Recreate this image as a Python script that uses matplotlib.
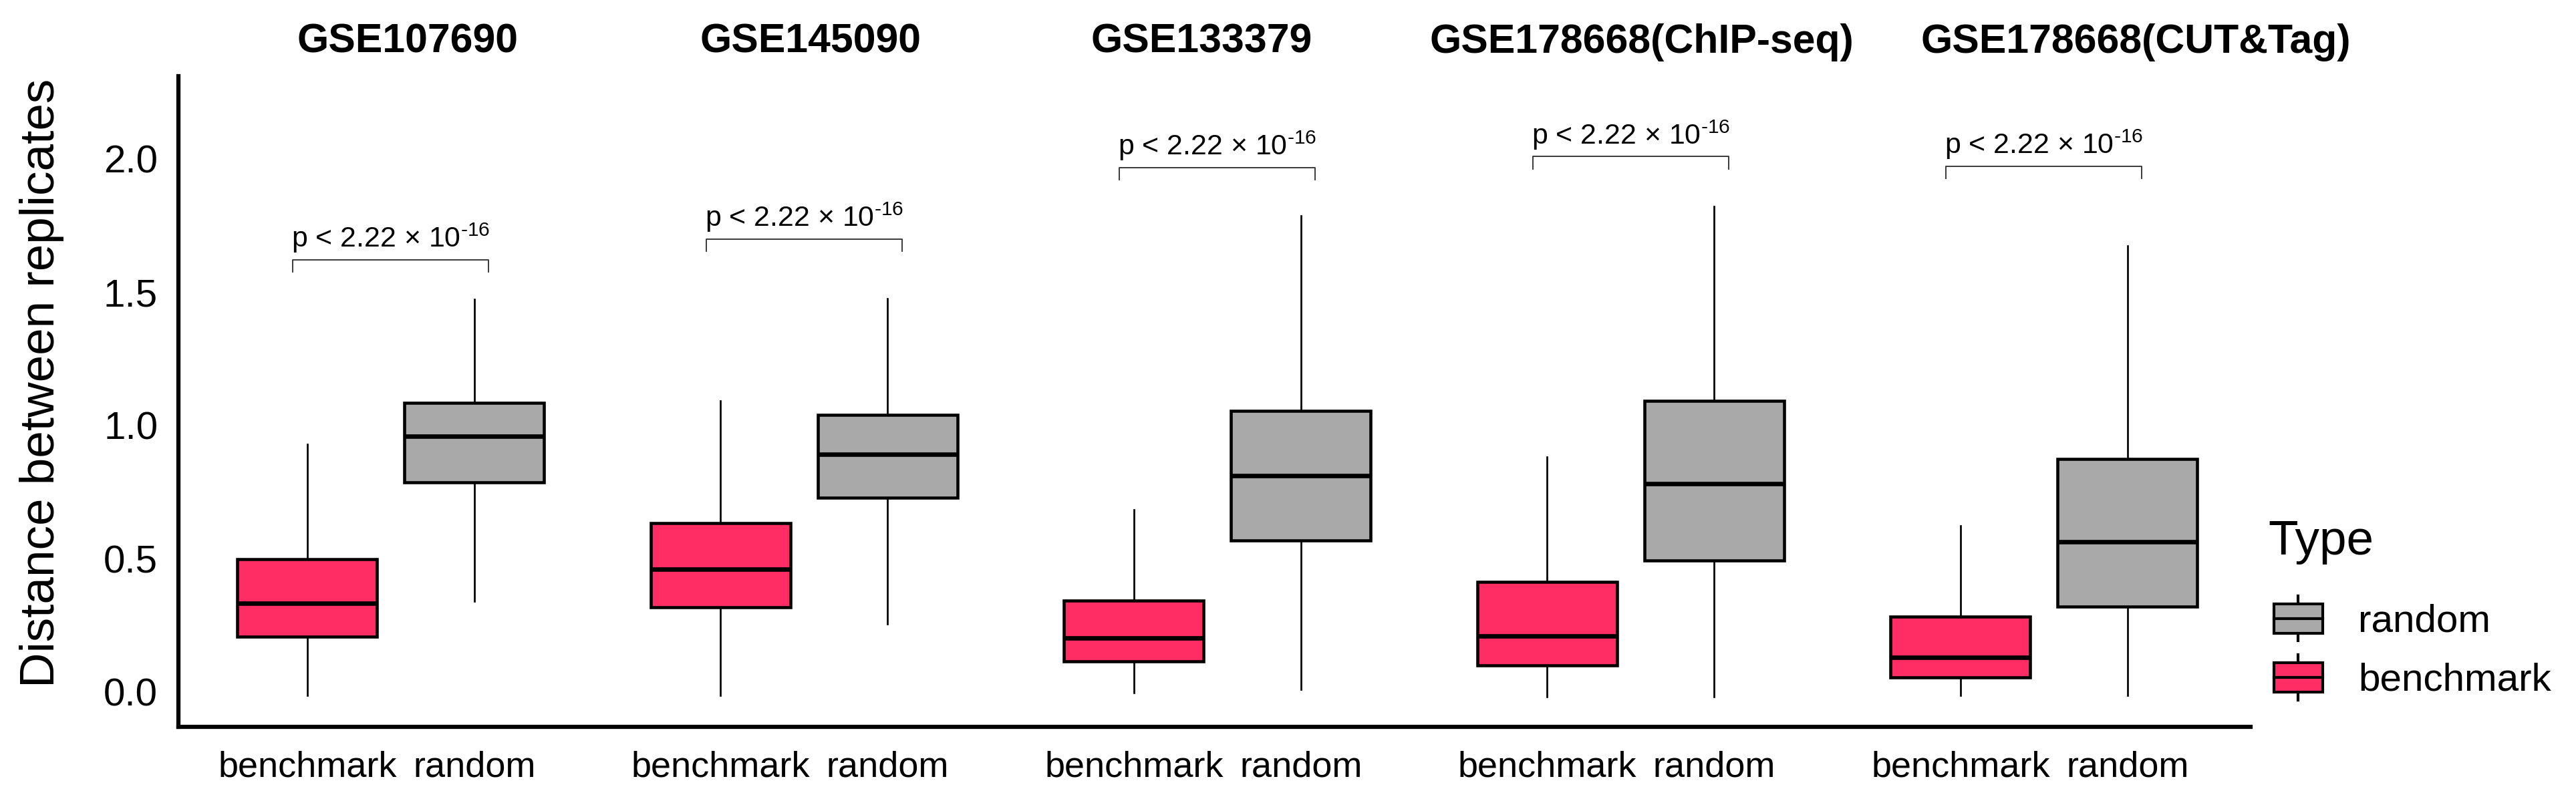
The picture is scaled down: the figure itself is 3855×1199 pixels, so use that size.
import matplotlib
matplotlib.use("Agg")
import matplotlib.pyplot as plt
from matplotlib.patches import Patch, Rectangle
from matplotlib.lines import Line2D
from matplotlib.legend_handler import HandlerBase

plt.rcParams['font.family'] = ['Liberation Sans', 'DejaVu Sans']
plt.rcParams['mathtext.fontset'] = 'custom'
plt.rcParams['mathtext.rm'] = 'Liberation Sans'
plt.rcParams['mathtext.default'] = 'regular'

###############################################################################
# Values: box statistics (low whisker, Q1, median, Q3,
# high whisker) for each dataset and type.
datasets = ['GSE107690', 'GSE145090', 'GSE133379',
            'GSE178668(ChIP-seq)', 'GSE178668(CUT&Tag)']
types = ['benchmark', 'random']

bench_low = [-0.014, -0.014, -0.005, -0.018, -0.014]
bench_q1 = [0.207, 0.316, 0.114, 0.100, 0.053]
bench_med = [0.332, 0.460, 0.202, 0.209, 0.128]
bench_q3 = [0.497, 0.633, 0.343, 0.413, 0.281]
bench_high = [0.930, 1.093, 0.682, 0.882, 0.624]

rand_low = [0.339, 0.255, 0.009, -0.018, -0.014]
rand_q1 = [0.786, 0.728, 0.568, 0.492, 0.320]
rand_med = [0.958, 0.891, 0.812, 0.782, 0.562]
rand_q3 = [1.084, 1.040, 1.054, 1.093, 0.873]
rand_high = [1.473, 1.476, 1.787, 1.822, 1.675]

bracket_y = [1.622, 1.699, 1.968, 2.009, 1.972]
p_label = r'p < 2.22 × 10$^{\text{-16}}$'

colors = {'benchmark': '#ff2d63', 'random': '#a9a9a9'}

# where the dataset titles sit (x, in group units)
title_x = [1.040, 2.015, 2.961, 4.027, 5.223]


def make_stats(low, q1, med, q3, high):
    return [dict(whislo=a, q1=b, med=c, q3=d, whishi=e, fliers=[])
            for a, b, c, d, e in zip(low, q1, med, q3, high)]


class BoxHandler(HandlerBase):
    def create_artists(self, legend, orig_handle, xdescent, ydescent,
                       width, height, fontsize, trans):
        x0, y0 = -xdescent, -ydescent
        bh = height * 0.65
        by = y0 + (height - bh) / 2
        xc = x0 + width / 2
        w1 = Line2D([xc, xc], [y0, by], color='black', lw=1.0, transform=trans)
        w2 = Line2D([xc, xc], [by + bh, y0 + height], color='black', lw=1.0,
                    transform=trans)
        rect = Rectangle((x0, by), width, bh, facecolor=orig_handle.get_facecolor(),
                         edgecolor='black', lw=1.0, transform=trans)
        med = Line2D([x0, x0 + width], [by + bh / 2] * 2, color='black', lw=1.0,
                     transform=trans)
        return [w1, w2, rect, med]


fig = plt.figure(figsize=(3855 / 300, 1199 / 300), dpi=300)
ax = fig.add_axes([267 / 3855, 1 - 1088 / 1199, 3101 / 3855, 974 / 1199])

centers = list(range(1, len(datasets) + 1))
offset = 0.202
width = 0.338

for name, stats, sign in [('benchmark', make_stats(bench_low, bench_q1, bench_med, bench_q3, bench_high), -1),
                          ('random', make_stats(rand_low, rand_q1, rand_med, rand_q3, rand_high), 1)]:
    ax.bxp(stats, positions=[c + sign * offset for c in centers], widths=width,
           showfliers=False, showcaps=False, patch_artist=True,
           boxprops=dict(facecolor=colors[name], edgecolor='black', linewidth=1.1),
           medianprops=dict(color='black', linewidth=1.6, solid_capstyle='butt'),
           whiskerprops=dict(color='black', linewidth=0.65),
           manage_ticks=False)

# significance brackets
half = 0.237
for c, y in zip(centers, bracket_y):
    ax.plot([c - half, c - half, c + half, c + half], [y - 0.046, y, y, y - 0.046],
            color='#333333', lw=0.45, clip_on=False)
    ax.text(c, y + 0.047, p_label, ha='center', va='baseline', fontsize=10.3)

# dataset titles
for tx, name in zip(title_x, datasets):
    ax.text(tx, 1.052, name, transform=ax.get_xaxis_transform(), ha='center',
            va='center', fontsize=14.6, fontweight='bold')

ax.set_xlim(0.486, 5.5)
ax.set_ylim(-0.132, 2.311)
ax.set_yticks([0.0, 0.5, 1.0, 1.5, 2.0])
ax.set_yticklabels(['0.0', '0.5', '1.0', '1.5', '2.0'])
xt = [c + s * offset for c in centers for s in (-1, 1)]
ax.set_xticks(xt)
ax.set_xticklabels(types * len(centers))
ax.tick_params(axis='y', length=0, pad=7.4, labelsize=14)
ax.tick_params(axis='x', length=0, pad=8.5, labelsize=13)

for side in ['top', 'right']:
    ax.spines[side].set_visible(False)
for side in ['left', 'bottom']:
    ax.spines[side].set_linewidth(1.5)
    ax.spines[side].set_capstyle('projecting')

ax.set_ylabel('Distance between replicates', fontsize=17.5)
ax.yaxis.set_label_coords(-0.055, 0.528)

fig.text(3394 / 3855, 1 - 830 / 1199, 'Type', fontsize=17.5, va='baseline')
h_rand = Patch(facecolor=colors['random'])
h_bench = Patch(facecolor=colors['benchmark'])
leg = fig.legend([h_rand, h_bench], ['random', 'benchmark'],
                 handler_map={h_rand: BoxHandler(), h_bench: BoxHandler()},
                 loc='upper left', bbox_to_anchor=(3403 / 3855, 1 - 892 / 1199),
                 frameon=False, borderpad=0, borderaxespad=0, fontsize=14,
                 handlelength=1.25, handleheight=1.4,
                 handletextpad=0.91, labelspacing=0.36)

fig.savefig('out.png', dpi=300)
